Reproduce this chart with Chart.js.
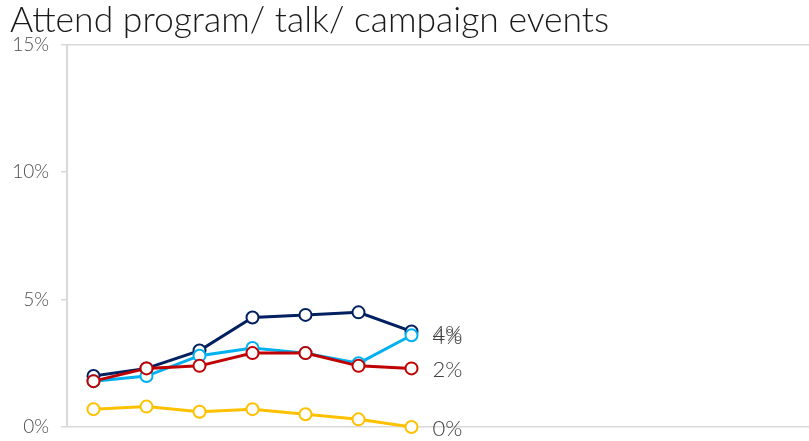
<!DOCTYPE html>
<html><head><meta charset="utf-8">
<script src="https://cdn.jsdelivr.net/npm/chart.js@4.4.0/dist/chart.umd.min.js"></script>
<style>html,body{margin:0;padding:0;background:#fff;overflow:hidden}#wrap{position:relative;width:809px;height:441px}canvas{display:block}</style>
</head><body><div id="wrap"><canvas id="c"></canvas></div>
<script>
const categories = ['1','2','3','4','5','6','7','8','9','10','11','12','13','14'];
const seriesNavy = [2.0, 2.3, 3.0, 4.3, 4.4, 4.5, 3.75];
const seriesLightBlue = [1.8, 2.0, 2.8, 3.1, 2.9, 2.5, 3.6];
const seriesRed = [1.8, 2.3, 2.4, 2.9, 2.9, 2.4, 2.3];
const seriesYellow = [0.7, 0.8, 0.6, 0.7, 0.5, 0.3, 0.0];
const yTicks = [0, 5, 10, 15];
const titleText = 'Attend program/ talk/ campaign events';
const FONT = "Lato, 'Open Sans', sans-serif";

function mk(label, data, color) {
  return {label, data, borderColor: color, backgroundColor: '#fff', pointBackgroundColor: '#fff',
    pointBorderColor: color, pointBorderWidth: 2, pointRadius: 6, pointHoverRadius: 6,
    borderWidth: 3, tension: 0, spanGaps: false, clip: false};
}

const endLabels = {
  id: 'endLabels',
  afterDatasetsDraw(chart) {
    const ctx = chart.ctx;
    ctx.save();
    ctx.font = "300 22px " + FONT;
    ctx.fillStyle = '#404040';
    ctx.textBaseline = 'middle';
    ctx.textAlign = 'left';
    chart.data.datasets.forEach((ds, i) => {
      const meta = chart.getDatasetMeta(i);
      let last = -1;
      ds.data.forEach((v, j) => { if (v !== null && v !== undefined) last = j; });
      if (last < 0) return;
      const pt = meta.data[last];
      ctx.fillText(Math.round(ds.data[last]) + '%', pt.x + 21, pt.y + 2);
    });
    ctx.restore();
  }
};

new Chart(document.getElementById('c'), {
  type: 'line',
  data: {
    labels: categories,
    datasets: [
      mk('Yellow', seriesYellow, '#ffc000'),
      mk('Red', seriesRed, '#c00000'),
      mk('Light blue', seriesLightBlue, '#00b0f0'),
      mk('Navy', seriesNavy, '#002060')
    ]
  },
  options: {
    responsive: true,
    maintainAspectRatio: false,
    animation: false,
    layout: {autoPadding: false, padding: {left: 10, right: 0, top: 0, bottom: 14}},
    plugins: {
      legend: {display: false},
      tooltip: {enabled: false},
      title: {display: true, text: titleText, align: 'start', color: '#1a1a1a',
        font: {family: FONT, size: 35.5, weight: 300, lineHeight: 1.15}, padding: {top: 0, bottom: 4}}
    },
    scales: {
      x: {display: false, offset: true},
      y: {
        min: 0, max: 15,
        afterBuildTicks(s) { s.ticks = yTicks.map(v => ({value: v})); },
        afterFit(s) { s.width = 57; s.paddingTop = 0; s.paddingBottom = 0; },
        ticks: {callback: v => v + '%', color: '#4d4d4d', font: {family: FONT, size: 19, weight: 300}, padding: 12},
        grid: {color: c => (c.tick && (c.tick.value === 0 || c.tick.value === 15)) ? '#d9d9d9' : 'rgba(0,0,0,0)',
               tickColor: '#d9d9d9', tickLength: 6, lineWidth: 1.5},
        border: {color: '#d9d9d9', width: 2}
      }
    }
  },
  plugins: [endLabels]
});
</script></body></html>
